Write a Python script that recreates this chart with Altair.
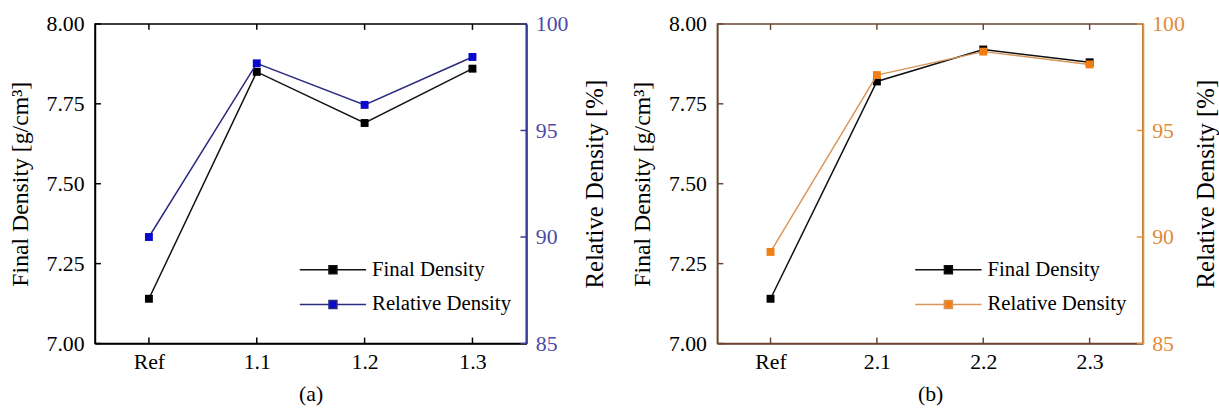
import altair as alt
import pandas as pd

cats_a = ["Ref", "1.1", "1.2", "1.3"]
final_a = [7.14, 7.85, 7.69, 7.86]
rel_a = [90.0, 98.15, 96.2, 98.45]

cats_b = ["Ref", "2.1", "2.2", "2.3"]
final_b = [7.14, 7.82, 7.92, 7.88]
rel_b = [89.3, 97.6, 98.7, 98.1]

series = ["Final Density", "Relative Density"]
y_left_ticks = [7.0, 7.25, 7.5, 7.75, 8.0]
y_right_ticks = [85, 90, 95, 100]

FONT = "Liberation Serif"
SYMBOL = "M-2,0H-0.24M0.24,0H2M-0.24,-0.24H0.24V0.24H-0.24Z"
H = 323


def panel(cats, final, rel, caption, width, legx, rtp, frame, line2, marker2, axis2, label2):
    df = pd.DataFrame({"cat": cats, "final": final, "rel": rel})
    base_f = alt.Chart(df).transform_calculate(series="'Final Density'")
    base_r = alt.Chart(df).transform_calculate(series="'Relative Density'")
    base = alt.Chart(df)
    lt = alt.Chart(pd.DataFrame({"v": y_left_ticks}))
    rt = alt.Chart(pd.DataFrame({"v": y_right_ticks}))
    xs = alt.Scale(type="point", padding=0.5)
    x_ax = alt.X(
        "cat:N", sort=cats, scale=xs,
        axis=alt.Axis(title=caption, labelAngle=0, ticks=False, grid=False,
                      domainColor=frame, domainWidth=1.5, labelFontSize=22,
                      labelPadding=8, titleFontSize=22, titlePadding=12,
                      titleFontWeight="normal", labelColor="black", titleColor="black",
                      labelFont=FONT, titleFont=FONT))

    legend = alt.Legend(orient="none", legendX=legx, legendY=231, title=None,
                        symbolType=SYMBOL, symbolSize=1122, symbolStrokeWidth=1.5,
                        labelFont=FONT, labelFontSize=21, labelColor="black",
                        labelOffset=22, rowPadding=7, padding=0)
    stroke_scale = alt.Scale(domain=series, range=["#111111", line2])
    fill_scale = alt.Scale(domain=series, range=["#000000", marker2])

    ysc_f = alt.Scale(domain=[7.0, 8.0], nice=False, zero=False)
    ysc_r = alt.Scale(domain=[85, 100], nice=False, zero=False)
    y_final = alt.Y("final:Q", scale=ysc_f,
                    axis=alt.Axis(title="Final Density [g/cm³]", values=y_left_ticks, format=".2f",
                                  ticks=False, grid=False, domainColor=frame, domainWidth=1.5,
                                  labelFontSize=22, labelColor="black", titleFontSize=24,
                                  titleFontWeight="normal", titlePadding=14, labelPadding=11,
                                  titleColor="black", labelFont=FONT, titleFont=FONT))
    y_rel = alt.Y("rel:Q", scale=ysc_r,
                  axis=alt.Axis(orient="right", title="Relative Density [%]", values=y_right_ticks,
                                ticks=False, grid=False, domainColor=axis2, domainWidth=2,
                                labelFontSize=22, labelColor=label2, titleFontSize=25,
                                titleFontWeight="normal", titleAngle=270, titlePadding=rtp,
                                labelPadding=9, titleColor="black",
                                labelFont=FONT, titleFont=FONT))

    final_line = base_f.mark_line(strokeWidth=1.5).encode(
        x=x_ax, y=y_final,
        stroke=alt.Stroke("series:N", scale=stroke_scale, legend=legend))
    final_pts = base_f.mark_point(shape="square", filled=True, size=64, opacity=1).encode(
        x=x_ax, y=alt.Y("final:Q", scale=ysc_f, axis=None),
        fill=alt.Fill("series:N", scale=fill_scale, legend=legend))
    rel_line = base_r.mark_line(strokeWidth=1.5).encode(
        x=x_ax, y=y_rel,
        stroke=alt.Stroke("series:N", scale=stroke_scale, legend=legend))
    rel_pts = base_r.mark_point(shape="square", filled=True, size=64, opacity=1).encode(
        x=x_ax, y=alt.Y("rel:Q", scale=ysc_r, axis=None),
        fill=alt.Fill("series:N", scale=fill_scale, legend=legend))

    top_ticks = base.mark_rule(color=frame, strokeWidth=1.5).encode(
        x=x_ax, y=alt.value(0), y2=alt.value(6))
    bottom_ticks = base.mark_rule(color=frame, strokeWidth=1.5).encode(
        x=x_ax, y=alt.value(H - 6), y2=alt.value(H))
    left_ticks = lt.mark_rule(color=frame, strokeWidth=1.5).encode(
        y=alt.Y("v:Q", scale=ysc_f, axis=None), x=alt.value(0), x2=alt.value(6))
    right_ticks = rt.mark_rule(color=axis2, strokeWidth=1.5).encode(
        y=alt.Y("v:Q", scale=ysc_r, axis=None), x=alt.value(width - 6), x2=alt.value(width))

    return alt.layer(
        final_line, final_pts, rel_line, rel_pts, top_ticks, bottom_ticks, left_ticks, right_ticks,
    ).resolve_scale(y="independent").properties(
        width=width, height=H,
        view=alt.ViewBackground(stroke=frame, strokeWidth=1.5, fill="white"))


pa = panel(cats_a, final_a, rel_a, "(a)", 436, 223, 40, "#000000", "#2b2b80", "#0a0acc", "#3b3b98", "#4b4ba8")
pb = panel(cats_b, final_b, rel_b, "(b)", 430, 216, 34, "#6b4530", "#d8965a", "#f07e14", "#e8913a", "#e08a3a")

chart = alt.hconcat(pa, pb, spacing=21).resolve_scale(
    x="independent", y="independent", fill="independent", stroke="independent"
).resolve_legend(fill="independent", stroke="independent").properties(
    padding={"left": 7, "top": 10, "right": 0, "bottom": 2},
    background="white",
).configure(font=FONT)

chart.save("out.html", embed_options={"renderer": "svg", "actions": False})
